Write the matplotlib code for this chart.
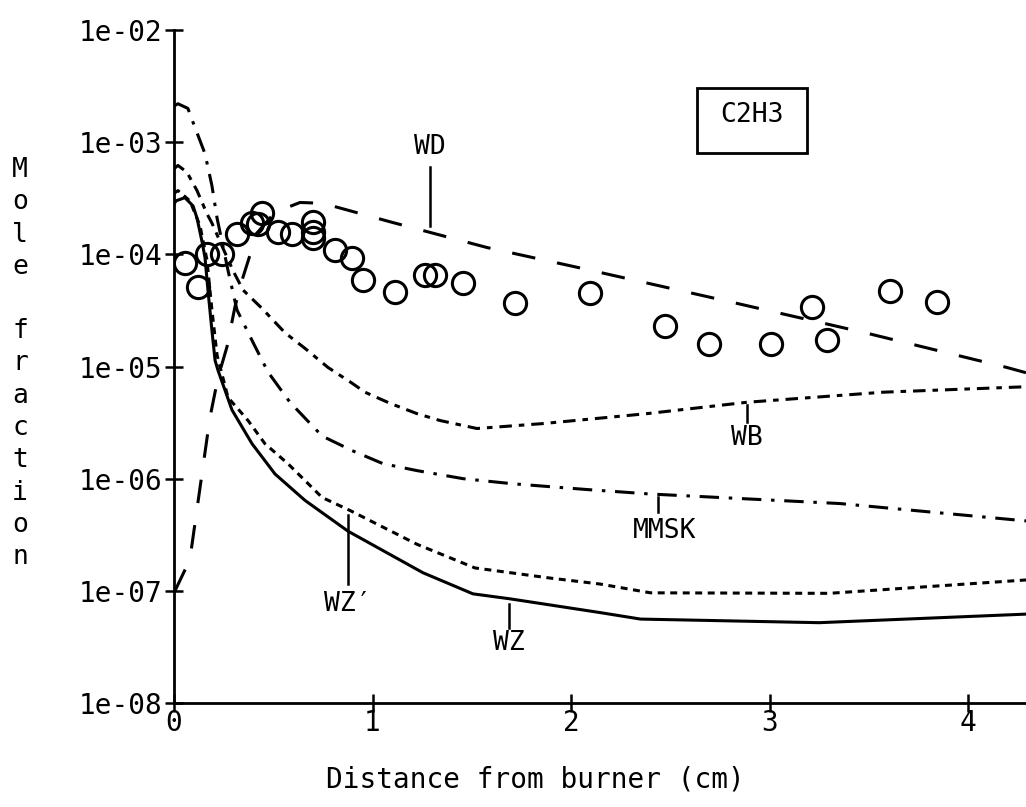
import math
import matplotlib
matplotlib.use("Agg")
import matplotlib.pyplot as plt
from matplotlib.patches import Rectangle
from matplotlib.ticker import FixedLocator, FuncFormatter

plt.rcParams['font.family'] = ['DejaVu Sans Mono', 'DejaVu Sans']
plt.rcParams['lines.scale_dashes'] = False

# measured points (circles)
x_exp = [0.055, 0.121, 0.166, 0.242, 0.317, 0.393, 0.443, 0.423, 0.524, 0.594,
         0.70, 0.70, 0.70, 0.811, 0.897, 0.952, 1.113, 1.264, 1.315, 1.456,
         1.718, 2.096, 2.474, 2.695, 3.008, 3.214, 3.290, 3.607, 3.844]
y_exp = [8.3e-5, 5.1e-5, 1.0e-4, 1.0e-4, 1.51e-4, 1.89e-4, 2.32e-4, 1.85e-4, 1.57e-4, 1.51e-4,
         1.93e-4, 1.57e-4, 1.39e-4, 1.09e-4, 9.2e-5, 5.86e-5, 4.58e-5, 6.5e-5, 6.5e-5, 5.5e-5,
         3.65e-5, 4.49e-5, 2.32e-5, 1.6e-5, 1.6e-5, 3.37e-5, 1.74e-5, 4.68e-5, 3.73e-5]

# model curves
x_wd = [0.005, 0.08, 0.131, 0.181, 0.222, 0.267, 0.307, 0.343, 0.418, 0.509,
        0.635, 0.75, 1.098, 1.577, 2.055, 2.766, 3.481, 4.196, 4.292]
y_wd = [1.0e-7, 1.9e-7, 8.3e-7, 3.5e-6, 8.0e-6, 1.5e-5, 3.4e-5, 5.9e-5, 1.55e-4, 2.37e-4,
        2.9e-4, 2.85e-4, 1.93e-4, 1.15e-4, 7.5e-5, 3.9e-5, 2.0e-5, 9.8e-6, 8.8e-6]

x_mmsk = [0.0, 0.02, 0.07, 0.096, 0.156, 0.191, 0.217, 0.272, 0.317, 0.398, 0.474,
          0.584, 0.746, 0.897, 1.053, 1.224, 1.456, 1.708, 2.08, 2.398, 3.355, 4.292]
y_mmsk = [2.1e-3, 2.2e-3, 2.0e-3, 1.5e-3, 7.9e-4, 4.1e-4, 2.1e-4, 7.2e-5, 3.2e-5, 1.64e-5, 8.9e-6,
          4.8e-6, 2.4e-6, 1.78e-6, 1.36e-6, 1.18e-6, 1.0e-6, 9.0e-7, 8.0e-7, 7.3e-7, 6.0e-7, 4.2e-7]

x_wb = [0.0, 0.02, 0.065, 0.116, 0.166, 0.191, 0.25, 0.30, 0.348, 0.443, 0.559, 0.66,
        0.776, 0.897, 0.962, 1.088, 1.224, 1.34, 1.526, 1.86, 2.383, 2.887, 3.572, 4.292]
y_wb = [5.8e-4, 6.2e-4, 5.4e-4, 3.7e-4, 2.3e-4, 1.9e-4, 1.1e-4, 7.0e-5, 4.8e-5, 3.3e-5, 2.0e-5, 1.45e-5,
        9.8e-6, 7.1e-6, 5.9e-6, 4.7e-6, 3.8e-6, 3.3e-6, 2.8e-6, 3.1e-6, 3.8e-6, 4.8e-6, 5.9e-6, 6.6e-6]

x_wzp = [0.0, 0.02, 0.08, 0.131, 0.166, 0.191, 0.217, 0.272, 0.373, 0.458, 0.574,
         0.746, 0.887, 1.224, 1.516, 1.894, 2.146, 2.4, 3.3, 4.292]
y_wzp = [3.5e-4, 3.7e-4, 3.0e-4, 1.8e-4, 8.9e-5, 3.2e-5, 1.26e-5, 5.3e-6, 3.3e-6, 2.05e-6, 1.36e-6,
         6.8e-7, 5.2e-7, 2.6e-7, 1.6e-7, 1.3e-7, 1.15e-7, 9.6e-8, 9.5e-8, 1.25e-7]

x_wz = [0.0, 0.01, 0.055, 0.096, 0.116, 0.141, 0.156, 0.171, 0.191, 0.207, 0.222, 0.292,
        0.393, 0.509, 0.66, 0.877, 1.254, 1.506, 1.69, 2.146, 2.35, 3.25, 4.292]
y_wz = [2.8e-4, 3.0e-4, 3.2e-4, 2.7e-4, 2.1e-4, 1.3e-4, 9.4e-5, 4.8e-5, 2.1e-5, 1.13e-5, 9.2e-6, 4.1e-6,
        2.05e-6, 1.1e-6, 6.4e-7, 3.4e-7, 1.45e-7, 9.4e-8, 8.5e-8, 6.4e-8, 5.6e-8, 5.2e-8, 6.2e-8]

# curve labels: text, label position, short pointer line
labels = ['WD', 'WB', 'MMSK', 'WZ\u2032', 'WZ']
lab_x = [1.29, 2.887, 2.47, 0.875, 1.685]
lab_y = [9.0e-4, 2.3e-6, 3.4e-7, 7.7e-8, 3.4e-8]
tick_x = [1.29, 2.887, 2.438, 0.877, 1.688]
tick_y0 = [6.0e-4, 4.5e-6, 6.8e-7, 4.7e-7, 7.7e-8]
tick_y1 = [1.8e-4, 3.2e-6, 5.0e-7, 1.15e-7, 4.7e-8]

yticks = [1e-8, 1e-7, 1e-6, 1e-5, 1e-4, 1e-3, 1e-2]
xticks = [0, 1, 2, 3, 4]

fig = plt.figure(figsize=(10.26, 8.07), dpi=100)
ax = fig.add_axes([174/1026, 104/807, 852/1026, 673/807])
ax.set_yscale('log')
ax.set_xlim(0, 4.292)
ax.set_ylim(1e-8, 1e-2)

lw = 2.2
ax.plot(x_wz, y_wz, color='black', lw=lw, ls='-')
ax.plot(x_wzp, y_wzp, color='black', lw=lw, ls=(0, (5, 4)))
ax.plot(x_wb, y_wb, color='black', lw=lw, ls=(0, (9, 5, 4, 5)))
ax.plot(x_mmsk, y_mmsk, color='black', lw=lw, ls=(0, (14, 7, 2.5, 7)))
ax.plot(x_wd, y_wd, color='black', lw=lw, ls=(0, (17, 16)))
ax.plot(x_exp, y_exp, ls='none', marker='o', ms=16, mfc='none', mec='black', mew=2.2)

for t, lx, ly, tx, t0, t1 in zip(labels, lab_x, lab_y, tick_x, tick_y0, tick_y1):
    ax.plot([tx, tx], [t0, t1], color='black', lw=1.8)
    ax.text(lx, ly, t, ha='center', va='center', fontsize=19)

# species box
ax.add_patch(Rectangle((0.6138, 0.8172), 0.1292, 0.0966, transform=ax.transAxes,
                       fill=False, lw=2, ec='black'))
ax.text(0.678, 0.8737, 'C2H3', transform=ax.transAxes, ha='center', va='center', fontsize=19)

ax.spines['top'].set_visible(False)
ax.spines['right'].set_visible(False)
ax.spines['left'].set_linewidth(2)
ax.spines['bottom'].set_linewidth(2)

ax.yaxis.set_major_locator(FixedLocator(yticks))
ax.yaxis.set_minor_locator(FixedLocator([]))
ax.yaxis.set_major_formatter(FuncFormatter(lambda v, p: '1e-%02d' % round(-math.log10(v))))
ax.set_xticks(xticks)
ax.tick_params(axis='both', direction='inout', length=13, width=1.8, labelsize=20, colors='black')
ax.tick_params(axis='y', pad=2)
ax.tick_params(axis='x', pad=-2)

ax.set_xlabel('Distance from burner (cm)', fontsize=20)
ax.xaxis.set_label_coords(0.4237, -0.1144)
ax.xaxis.label.set_va('center')

# vertical stacked y label
word = 'Mole fraction'
for i, ch in enumerate(word):
    fig.text(20/1026, 1 - (170 + i*32.25)/807, ch, ha='center', va='center', fontsize=19)

fig.savefig('out.png', dpi=100)
